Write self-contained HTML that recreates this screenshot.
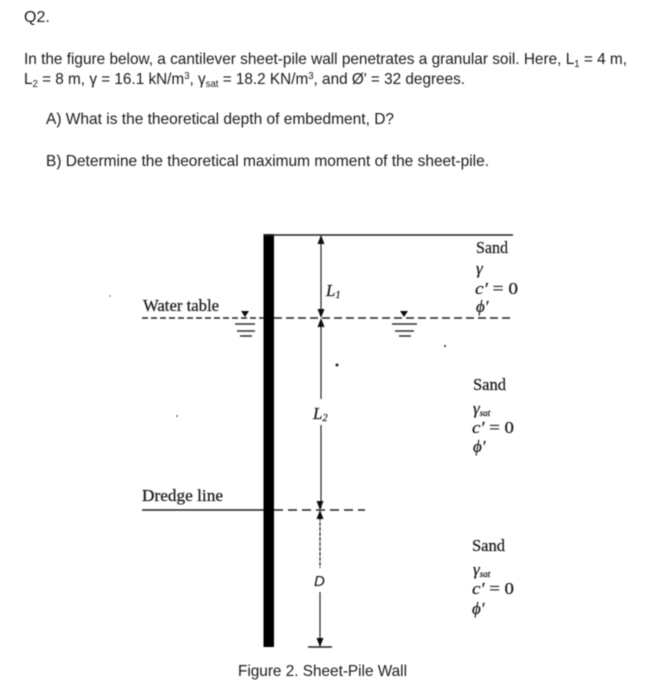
<!DOCTYPE html>
<html>
<head>
<meta charset="utf-8">
<style>
html,body{margin:0;padding:0;background:#fff;width:651px;height:700px;overflow:hidden}
svg{display:block}
.a{font-family:"Liberation Sans",sans-serif;font-size:16px;fill:#1a1a1a}
.s{font-family:"Liberation Serif",serif;fill:#1a1a1a;stroke:#1a1a1a;stroke-width:.25}
.i{font-style:italic}
.n{font-style:normal}
</style>
</head>
<body>
<svg width="651" height="700" viewBox="0 0 651 700" xmlns="http://www.w3.org/2000/svg">
<defs><filter id="b" x="-5%" y="-5%" width="110%" height="110%"><feGaussianBlur stdDeviation="0.4"/></filter></defs>
<g filter="url(#b)">
<text class="a" x="24" y="22">Q2.</text>
<text class="a" x="24" y="64" textLength="603" lengthAdjust="spacingAndGlyphs">In the figure below, a cantilever sheet-pile wall penetrates a granular soil. Here, L<tspan font-size="10" dy="3">1</tspan><tspan dy="-3"> = 4 m,</tspan></text>
<text class="a" x="24" y="84" textLength="441" lengthAdjust="spacingAndGlyphs">L<tspan font-size="10" dy="3">2</tspan><tspan dy="-3"> = 8 m, γ = 16.1 kN/m</tspan><tspan font-size="10" dy="-5">3</tspan><tspan dy="5">, γ</tspan><tspan font-size="10" dy="3">sat</tspan><tspan dy="-3"> = 18.2 KN/m</tspan><tspan font-size="10" dy="-5">3</tspan><tspan dy="5">, and Ø' = 32 degrees.</tspan></text>
<text class="a" x="46" y="124" textLength="348" lengthAdjust="spacingAndGlyphs">A) What is the theoretical depth of embedment, D?</text>
<text class="a" x="46" y="166" textLength="443" lengthAdjust="spacingAndGlyphs">B) Determine the theoretical maximum moment of the sheet-pile.</text>

<rect x="263.5" y="234" width="10.5" height="413" fill="#000"/>
<line x1="264" y1="235" x2="513" y2="235" stroke="#222" stroke-width="1.4"/>

<line x1="142" y1="318" x2="264" y2="318" stroke="#222" stroke-width="1.6" stroke-dasharray="6 3"/>
<line x1="274" y1="318" x2="512" y2="318" stroke="#222" stroke-width="1.6" stroke-dasharray="8 4"/>
<line x1="142" y1="510" x2="264" y2="510" stroke="#222" stroke-width="1.6"/>
<line x1="274" y1="510" x2="365" y2="510" stroke="#222" stroke-width="1.6" stroke-dasharray="9 5"/>

<line x1="321" y1="236" x2="321" y2="316" stroke="#222" stroke-width="1.2"/>
<line x1="321" y1="320" x2="321" y2="399" stroke="#222" stroke-width="1.2"/>
<line x1="321" y1="425" x2="321" y2="508" stroke="#222" stroke-width="1.2"/>
<line x1="320" y1="512" x2="320" y2="568" stroke="#222" stroke-width="1.2" stroke-dasharray="4 1"/>
<line x1="320" y1="592" x2="320" y2="646" stroke="#222" stroke-width="1.2"/>
<line x1="308" y1="647" x2="332" y2="647" stroke="#222" stroke-width="1.5"/>

<g fill="#111">
<polygon points="321,235 317.5,244 324.5,244"/>
<polygon points="321,318 317.5,309 324.5,309"/>
<polygon points="321,318 317.5,327 324.5,327"/>
<polygon points="320,510 316.5,501 323.5,501"/>
<polygon points="320,510 316.5,519 323.5,519"/>
<polygon points="320,647 316.5,638 323.5,638"/>
<polygon points="241,311 249,311 245,317"/>
<polygon points="400,311 408,311 404,317"/>
</g>
<g stroke="#333" stroke-width="1.5">
<line x1="235" y1="324" x2="255" y2="324"/><line x1="237" y1="331" x2="255" y2="331"/><line x1="240" y1="336" x2="252" y2="336"/>
<line x1="392" y1="324" x2="417" y2="324"/><line x1="395" y1="331" x2="414" y2="331"/><line x1="399" y1="336" x2="411" y2="336"/>
</g>

<g class="s" font-size="17">
<text x="143" y="311" textLength="76" lengthAdjust="spacingAndGlyphs">Water table</text>
<text x="142" y="501" textLength="81" lengthAdjust="spacingAndGlyphs">Dredge line</text>
<text x="476" y="253" textLength="32" lengthAdjust="spacingAndGlyphs">Sand</text>
<text x="473" y="390" textLength="33" lengthAdjust="spacingAndGlyphs">Sand</text>
<text x="472" y="551" textLength="33" lengthAdjust="spacingAndGlyphs">Sand</text>
<text class="i" x="476" y="274">γ</text>
<text class="i" x="475" y="294" textLength="43" lengthAdjust="spacingAndGlyphs">c′ <tspan class="n">= 0</tspan></text>
<text class="i" x="476" y="312">ϕ′</text>
<text class="i" x="473" y="414">γ<tspan font-size="9" dy="2">sat</tspan></text>
<text class="i" x="472" y="433" textLength="42" lengthAdjust="spacingAndGlyphs">c′ <tspan class="n">= 0</tspan></text>
<text class="i" x="473" y="452">ϕ′</text>
<text class="i" x="473" y="575">γ<tspan font-size="9" dy="2">sat</tspan></text>
<text class="i" x="472" y="594" textLength="42" lengthAdjust="spacingAndGlyphs">c′ <tspan class="n">= 0</tspan></text>
<text class="i" x="472" y="614">ϕ′</text>
<text class="i" x="326" y="296">L<tspan font-size="10" dy="2">1</tspan></text>
<text class="i" x="313" y="419">L<tspan font-size="10" dy="2">2</tspan></text>
</g>
<text x="314" y="586" font-family="Liberation Sans,sans-serif" font-style="italic" font-size="15" fill="#111">D</text>
<text class="a" x="238" y="676" textLength="169" lengthAdjust="spacingAndGlyphs">Figure 2. Sheet-Pile Wall</text>

<g fill="#222">
<circle cx="337" cy="365" r="1.5"/><circle cx="445" cy="346" r="1"/><circle cx="177" cy="416" r="0.8"/><circle cx="110" cy="296" r="0.6"/>
</g>
</g>
</svg>
</body>
</html>
